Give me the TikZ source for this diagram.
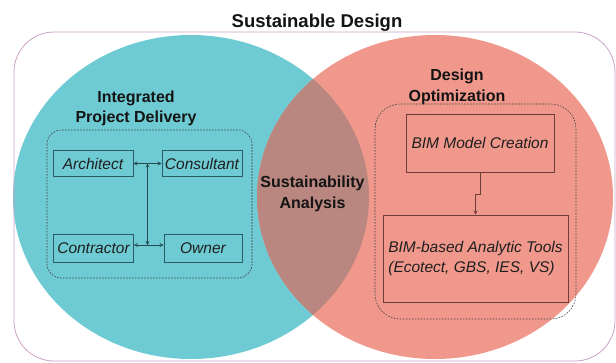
\documentclass[tikz,border=0pt]{standalone}
\usepackage{fontspec}
\setmainfont{Liberation Sans}
\usetikzlibrary{arrows}
\usetikzlibrary{calc}
\definecolor{ipdcyan}{HTML}{6FCBD3}
\definecolor{optsalmon}{HTML}{F0988C}
\definecolor{overlapbrown}{HTML}{B9877F}
\definecolor{outerpink}{HTML}{C9A2C6}
\definecolor{tealline}{HTML}{2C5C63}
\definecolor{brownline}{HTML}{6E3F39}
\tikzset{
  heading/.style={font=\fontsize{16}{20.5}\selectfont\bfseries, align=center, text=black!92},
  member/.style={draw=tealline, line width=0.8pt, font=\fontsize{15.5}{18}\selectfont\itshape,
    minimum width=80pt, minimum height=26pt, inner sep=1pt, text=black!88},
  bimbox/.style={draw=brownline, line width=0.8pt, font=\fontsize{15.5}{20.5}\selectfont\itshape,
    inner sep=2pt, text=black!88},
  groupframe/.style={draw=black!75, line width=0.6pt, dash pattern=on 1.6pt off 1.4pt}
}
\begin{document}
\begin{tikzpicture}[x=1pt,y=-1pt]
\useasboundingbox (0,0) rectangle (616,362);
% the two sets
\fill[ipdcyan] (191,197) ellipse [x radius=178, y radius=162];
\fill[optsalmon] (435,197) ellipse [x radius=178, y radius=162];
\begin{scope}
\clip (191,197) ellipse [x radius=178, y radius=162];
\fill[overlapbrown] (435,197) ellipse [x radius=178, y radius=162];
\end{scope}
\draw[outerpink, line width=0.8pt, rounded corners=40pt] (14,32) rectangle (615,361);
\node[font=\fontsize{18.5}{22}\selectfont\bfseries, anchor=base, text=black!92] (sd) at (317,27) {Sustainable Design};
% headings
\node[heading] (ipd) at (136,108.5) {Integrated\\Project Delivery};
\node[heading] (dopt) at (457,87) {Design\\Optimization};
\node[heading] (sa) at (312.5,194) {Sustainability\\Analysis};
% integrated project delivery
\draw[groupframe, rounded corners=14pt] (47,130) rectangle (252,278);
\node[member] (architect) at (93,163.5) {Architect};
\node[member] (consultant) at (202,163.5) {Consultant};
\node[member, minimum height=28pt] (contractor) at (93.5,248) {Contractor};
\node[member, minimum height=28pt, minimum width=78pt] (owner) at (203,248) {Owner};
\coordinate (topmid) at ($(architect.east)!0.5!(consultant.west)$);
\coordinate (botmid) at ($([yshift=3pt]contractor.east)!0.5!([yshift=3pt]owner.west)$);
\draw[<->,>=stealth, tealline!80!black, line width=0.8pt] (architect) -- (consultant);
\draw[<->,>=stealth, tealline!80!black, line width=0.8pt] ([yshift=3pt]contractor.east) -- ([yshift=3pt]owner.west);
\draw[<->,>=stealth, tealline!80!black, line width=0.8pt] (topmid) -- (topmid |- botmid);
% design optimization
\draw[groupframe, rounded corners=25pt] (375,104) rectangle (576,319);
\node[bimbox, minimum width=148pt, minimum height=58pt] (bimmodel) at (480,143) {BIM Model Creation};
\node[bimbox, minimum width=185pt, minimum height=87pt, align=left] (bimtools) at (475.5,258.5)
  {BIM-based Analytic Tools\\(Ecotect, GBS, IES, VS)};
\draw[->,>=stealth, brownline, line width=0.8pt] (bimmodel.south) -- ++(0,22) -| (bimtools.north);
\end{tikzpicture}
\end{document}
